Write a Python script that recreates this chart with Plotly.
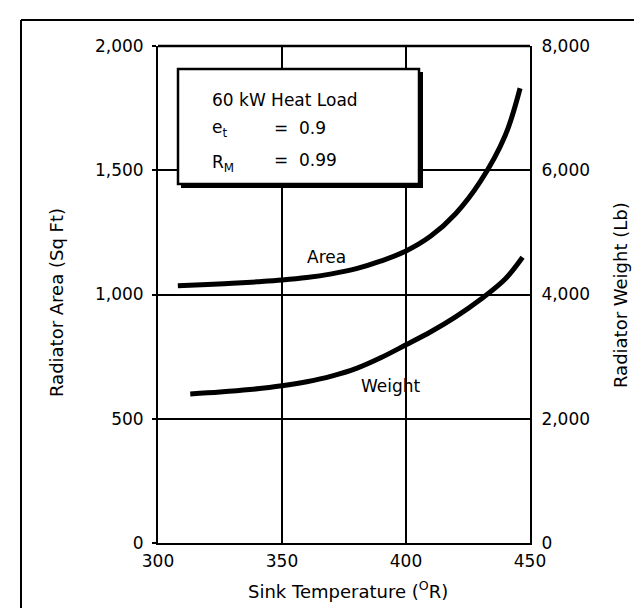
import plotly.graph_objects as go

# ---- data ----
area_temp = [308, 320, 330, 340, 350, 360, 370, 380, 390, 400, 410, 420, 430, 440, 446]
area_sqft = [1035, 1040, 1045, 1051, 1058, 1068, 1083, 1104, 1135, 1175, 1235, 1325, 1455, 1640, 1830]

weight_temp = [313, 325, 337, 350, 360, 370, 380, 390, 400, 410, 420, 430, 440, 447]
weight_lb = [2400, 2430, 2470, 2530, 2595, 2685, 2810, 2985, 3190, 3400, 3640, 3920, 4250, 4600]

x_ticks = [300, 350, 400, 450]
area_ticks = [0, 500, 1000, 1500, 2000]
weight_ticks = [0, 2000, 4000, 6000, 8000]

FONT = "DejaVu Sans"
W, H = 642, 608
L, R, T, B = 150, 120, 38, 73
PW, PH = W - L - R, H - T - B


def px_x(px):
    return (px - L) / PW


def px_y(py):
    return (H - B - py) / PH


fig = go.Figure()
fig.add_trace(go.Scatter(x=area_temp, y=area_sqft, mode="lines", line=dict(color="black", width=5, shape="spline"),
                         name="Area", showlegend=False))
fig.add_trace(go.Scatter(x=weight_temp, y=weight_lb, mode="lines", line=dict(color="black", width=5, shape="spline"),
                         name="Weight", yaxis="y2", showlegend=False))

tick_font = dict(family=FONT, size=17, color="black")
axis_common = dict(showline=True, linecolor="black", linewidth=2, mirror=False,
                   showgrid=True, gridcolor="black", gridwidth=1.5, zeroline=False,
                   tickfont=tick_font)

fig.update_layout(
    width=W, height=H,
    margin=dict(l=L, r=R, t=T, b=B),
    paper_bgcolor="white", plot_bgcolor="white",
    xaxis=dict(range=[300, 450], tickvals=x_ticks, ticks="", ticklabelstandoff=2, **axis_common),
    yaxis=dict(range=[0, 2000], tickvals=area_ticks, tickformat=",", ticks="outside", ticklen=4,
               tickwidth=2, tickcolor="black", ticklabelstandoff=5, **axis_common),
    yaxis2=dict(range=[0, 8000], tickvals=weight_ticks, tickformat=",", overlaying="y", side="right",
                showline=True, linecolor="black", linewidth=2, showgrid=False, zeroline=False, ticks="",
                ticklabelstandoff=6, tickfont=tick_font),
    showlegend=False,
)

shapes = []
# plot-area top border
shapes.append(dict(type="line", xref="paper", yref="paper", x0=0, x1=1, y0=1, y1=1,
                   line=dict(color="black", width=2.5)))
# outer frame (top, left, right)
fx0, fx1, fy0, fy1 = px_x(13), px_x(639), px_y(612), px_y(12)
shapes.append(dict(type="line", xref="paper", yref="paper", x0=fx0, x1=fx1, y0=fy1, y1=fy1,
                   line=dict(color="black", width=2)))
shapes.append(dict(type="line", xref="paper", yref="paper", x0=fx0, x1=fx0, y0=fy0, y1=fy1,
                   line=dict(color="black", width=2)))
shapes.append(dict(type="line", xref="paper", yref="paper", x0=fx1, x1=fx1, y0=fy0, y1=fy1,
                   line=dict(color="black", width=2)))
# info box shadow + box
shapes.append(dict(type="rect", xref="paper", yref="paper", x0=px_x(173), x1=px_x(415), y0=px_y(180), y1=px_y(64),
                   line=dict(width=0), fillcolor="black"))
shapes.append(dict(type="rect", xref="paper", yref="paper", x0=px_x(170), x1=px_x(411), y0=px_y(176), y1=px_y(61),
                   line=dict(color="black", width=2.5), fillcolor="white"))
fig.update_layout(shapes=shapes)

ann_font = dict(family=FONT, size=17, color="black")
title_font = dict(family=FONT, size=18, color="black")
anns = [
    dict(text="60 kW Heat Load", x=px_x(202), y=px_y(92)),
    dict(text="e<sub>t</sub>", x=px_x(202), y=px_y(121)),
    dict(text="=  0.9", x=px_x(264), y=px_y(120)),
    dict(text="R<sub>M</sub>", x=px_x(202), y=px_y(155)),
    dict(text="=  0.99", x=px_x(264), y=px_y(152)),
]
for a in anns:
    fig.add_annotation(xref="paper", yref="paper", xanchor="left", yanchor="middle", showarrow=False,
                       font=ann_font, **a)

fig.add_annotation(text="Area", x=368, y=1150, xref="x", yref="y", showarrow=False, font=ann_font)
fig.add_annotation(text="Weight", x=394, y=632, xref="x", yref="y", showarrow=False, font=ann_font)

fig.add_annotation(text="Sink Temperature (<sup>O</sup>R)", x=px_x(340), y=px_y(582), xref="paper", yref="paper",
                   showarrow=False, font=title_font, xanchor="center", yanchor="middle")
fig.add_annotation(text="Radiator Area (Sq Ft)", x=px_x(48), y=px_y(295), xref="paper", yref="paper",
                   showarrow=False, font=title_font, textangle=-90, xanchor="center", yanchor="middle")
fig.add_annotation(text="Radiator Weight (Lb)", x=px_x(612), y=px_y(287), xref="paper", yref="paper",
                   showarrow=False, font=title_font, textangle=-90, xanchor="center", yanchor="middle")

fig.write_html("out.html")
